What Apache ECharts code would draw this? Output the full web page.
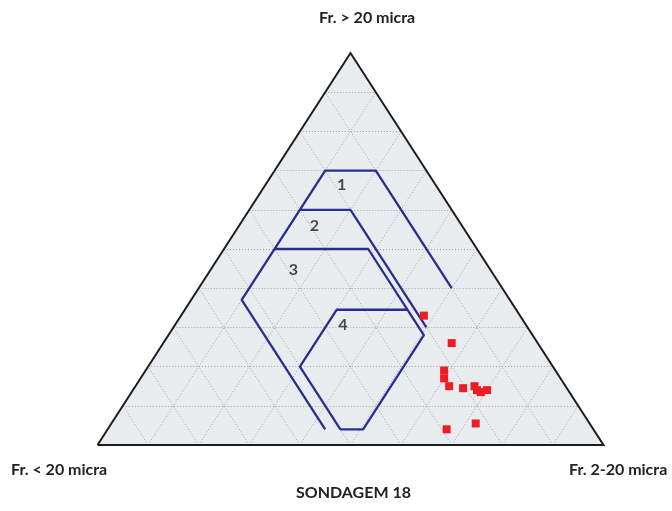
<!DOCTYPE html>
<html>
<head>
<meta charset="utf-8">
<script src="https://cdn.jsdelivr.net/npm/echarts@6/dist/echarts.min.js"></script>
<style>
  html, body { margin: 0; padding: 0; background: #ffffff; }
  #chart { width: 672px; height: 511px; }
</style>
</head>
<body>
<div id="chart"></div>
<script>
// Ternary components: top = Fr. > 20 micra, left = Fr. < 20 micra, right = Fr. 2-20 micra
const axisNames = { top: 'Fr. > 20 micra', left: 'Fr. < 20 micra', right: 'Fr. 2-20 micra' };
const chartTitle = 'SONDAGEM 18';
const gridTicks = [0.1, 0.2, 0.3, 0.4, 0.5, 0.6, 0.7, 0.8, 0.9];

// Sample points (fractions)
const sampleTop   = [0.33, 0.26, 0.19, 0.17, 0.15, 0.145, 0.15, 0.14, 0.135, 0.14, 0.04, 0.055];
const sampleRight = [0.48, 0.57, 0.59, 0.60, 0.62, 0.65, 0.67, 0.68, 0.69, 0.70, 0.67, 0.72];

// Zone boundary polylines: [top, left, right]
const zone1 = [[0.40, 0.10, 0.50], [0.70, 0.10, 0.20], [0.70, 0.20, 0.10], [0.37, 0.53, 0.10], [0.04, 0.53, 0.43]];
const zone2 = [[0.60, 0.30, 0.10], [0.60, 0.20, 0.20], [0.30, 0.20, 0.50]];
const zone3 = [[0.50, 0.40, 0.10], [0.50, 0.215, 0.285], [0.28, 0.215, 0.505], [0.04, 0.455, 0.505],
               [0.04, 0.50, 0.46], [0.20, 0.50, 0.30], [0.345, 0.355, 0.30], [0.345, 0.215, 0.44]];

// Zone labels
const zoneLabelNames = ['1', '2', '3', '4'];
const zoneLabelTop   = [0.663, 0.559, 0.448, 0.306];
const zoneLabelRight = [0.151, 0.149, 0.163, 0.332];

function toXY(top, right) { return [right + top / 2, top]; }

const vLeft = toXY(0, 0), vRight = toXY(0, 1), vTop = toXY(1, 0);
const triangleFill = [vLeft, vTop, vRight];
const triangleEdge = [vLeft, vRight, vTop, vLeft];

const gridLines = [];
gridTicks.forEach(function (k) {
  gridLines.push({ coords: [toXY(k, 0), toXY(k, 1 - k)] });          // constant top
  gridLines.push({ coords: [toXY(0, k), toXY(1 - k, k)] });          // constant right
  gridLines.push({ coords: [toXY(0, 1 - k), toXY(1 - k, 0)] });      // constant left
});

function zoneData(z) { return z.map(function (p) { return toXY(p[0], p[2]); }); }

const samples = sampleTop.map(function (t, i) { return toXY(t, sampleRight[i]); });
const zoneLabels = zoneLabelNames.map(function (n, i) {
  return { name: n, value: toXY(zoneLabelTop[i], zoneLabelRight[i]) };
});

const blue = '#2b2e91';
const font = 'Lato, "Open Sans", sans-serif';

const chart = echarts.init(document.getElementById('chart'), null, { renderer: 'canvas' });
chart.setOption({
  animation: false,
  backgroundColor: '#ffffff',
  grid: { left: 97.5, right: 68.5, top: 53, bottom: 66 },
  xAxis: { type: 'value', min: 0, max: 1, show: false },
  yAxis: { type: 'value', min: 0, max: 1, show: false },
  graphic: [
    { type: 'text', left: 319, top: 10, style: { text: axisNames.top, font: 'bold 16px ' + font, fill: '#222' } },
    { type: 'text', left: 11, top: 462, style: { text: axisNames.left, font: 'bold 16px ' + font, fill: '#222' } },
    { type: 'text', left: 569, top: 462, style: { text: axisNames.right, font: 'bold 16px ' + font, fill: '#222' } },
    { type: 'text', left: 296, top: 485, style: { text: chartTitle, font: 'bold 16px ' + font, fill: '#222' } }
  ],
  series: [
    {
      type: 'line', data: triangleFill, symbol: 'none', clip: false,
      lineStyle: { width: 0 }, areaStyle: { color: '#e9ecee', opacity: 1 }, z: 1, silent: true
    },
    {
      type: 'lines', coordinateSystem: 'cartesian2d', data: gridLines, silent: true, z: 2,
      lineStyle: { color: '#9a9a9a', width: 1, type: [1, 2], opacity: 0.9 }
    },
    {
      type: 'line', data: triangleEdge, symbol: 'none', clip: false, z: 3, silent: true,
      lineStyle: { color: '#1c1c1c', width: 2, join: 'miter' }
    },
    { type: 'line', data: zoneData(zone1), symbol: 'none', clip: false, z: 4, lineStyle: { color: blue, width: 2.3 } },
    { type: 'line', data: zoneData(zone2), symbol: 'none', clip: false, z: 4, lineStyle: { color: blue, width: 2.3 } },
    { type: 'line', data: zoneData(zone3), symbol: 'none', clip: false, z: 4, lineStyle: { color: blue, width: 2.3 } },
    {
      type: 'scatter', data: samples, symbol: 'rect', symbolSize: 8, z: 5,
      itemStyle: { color: '#ee1c24', opacity: 1 }
    },
    {
      type: 'scatter', data: zoneLabels, symbolSize: 0, z: 6,
      label: { show: true, position: 'inside', formatter: '{b}', color: '#1e1e1e', fontSize: 16, fontWeight: 'bold', fontFamily: font }
    }
  ]
});
</script>
</body>
</html>
